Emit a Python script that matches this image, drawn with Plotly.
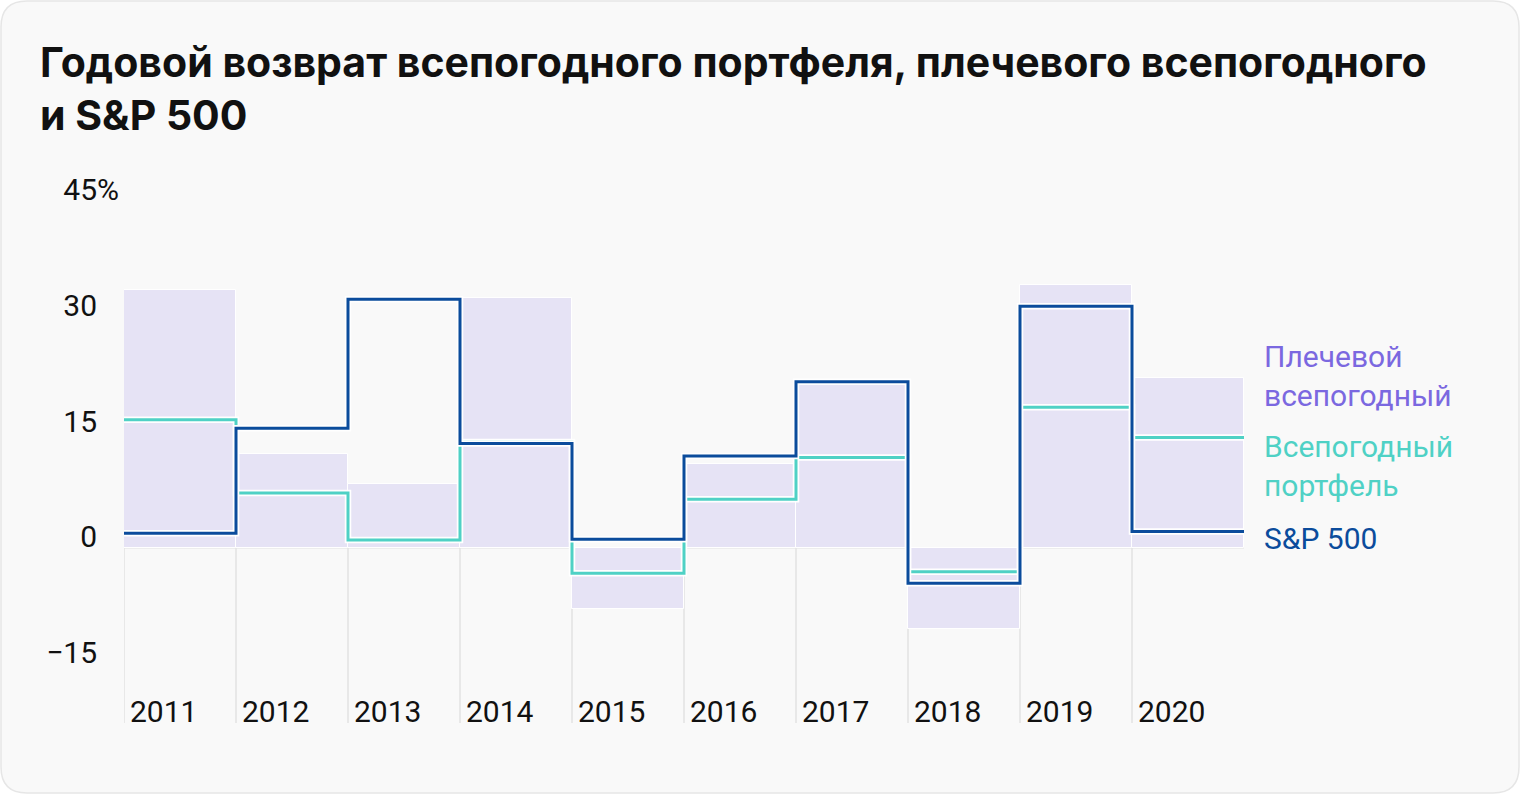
import plotly.graph_objects as go

# ---------------- data ----------------
years = ["2011", "2012", "2013", "2014", "2015", "2016", "2017", "2018", "2019", "2020"]
leveraged_all_weather = [33.4, 12.2, 8.3, 32.3, -7.9, 10.9, 21.6, -10.5, 34.1, 22.0]
all_weather = [16.6, 7.1, 1.0, 13.7, -3.3, 6.3, 11.7, -3.1, 18.2, 14.3]
sp500 = [1.9, 15.5, 32.2, 13.5, 1.1, 11.9, 21.5, -4.6, 31.3, 2.1]
y_tick_values = [45, 30, 15, 0, -15]
y_tick_labels = ["45%", "30", "15", "0", "−15"]
legend_labels = ["Плечевой<br>всепогодный", "Всепогодный<br>портфель", "S&P 500"]
title_text = "Годовой возврат всепогодного портфеля, плечевого всепогодного<br>и S&P 500"

# ---------------- style ----------------
W, H = 1520, 794
L, R, T, B = 124, 276, 200, 71
C_BAR = "#E6E3F5"
C_TEAL = "#4FD1C5"
C_BLUE = "#0B4C9C"
C_PURPLE = "#7B68E0"
C_GRID = "#E2E2E2"
FONT = "Roboto"
FS = 30

n = len(years)
centers = [i + 0.5 for i in range(n)]
edges = list(range(n + 1))

fig = go.Figure()

fig.add_trace(go.Bar(
    x=centers, y=leveraged_all_weather, width=1,
    marker=dict(color=C_BAR, line=dict(color="white", width=1)),
    hoverinfo="skip", showlegend=False,
))


def step_trace(vals, color, width):
    return go.Scatter(
        x=edges, y=vals + [vals[-1]], mode="lines",
        line=dict(color=color, width=width, shape="hv"),
        hoverinfo="skip", showlegend=False,
    )


fig.add_trace(step_trace(all_weather, "white", 6.5))
fig.add_trace(step_trace(all_weather, C_TEAL, 3))
fig.add_trace(step_trace(sp500, "white", 6.5))
fig.add_trace(step_trace(sp500, C_BLUE, 3))

y_min, y_max = -22.7, 45.06

# gridlines below zero and zero line
shapes = []
for e in edges[:-1]:
    shapes.append(dict(type="line", xref="x", yref="y", x0=e, x1=e, y0=y_min, y1=0,
                       line=dict(color=C_GRID, width=1.5), layer="below"))
shapes.append(dict(type="line", xref="x", yref="y", x0=0, x1=n, y0=0, y1=0,
                   line=dict(color=C_GRID, width=1.5), layer="below"))


# card background (rounded rectangle) in paper coords
def px(xp):
    return (xp - L) / (W - L - R)


def py(yp):
    return (H - B - yp) / (H - T - B)


r = 26
x0, x1, y0, y1 = 1, W - 1, 1, H - 1
path = (f"M {px(x0 + r)},{py(y0)} L {px(x1 - r)},{py(y0)} "
        f"Q {px(x1)},{py(y0)} {px(x1)},{py(y0 + r)} "
        f"L {px(x1)},{py(y1 - r)} Q {px(x1)},{py(y1)} {px(x1 - r)},{py(y1)} "
        f"L {px(x0 + r)},{py(y1)} Q {px(x0)},{py(y1)} {px(x0)},{py(y1 - r)} "
        f"L {px(x0)},{py(y0 + r)} Q {px(x0)},{py(y0)} {px(x0 + r)},{py(y0)} Z")
shapes.insert(0, dict(type="path", xref="paper", yref="paper", path=path,
                      fillcolor="#F9F9F9", line=dict(color="#E6E6E6", width=1.5), layer="below"))

# y tick labels: invisible % keeps numbers aligned like the reference
y_ticktext = [t if t.endswith("%") else t + "<span style='color:rgba(0,0,0,0)'>%</span>"
              for t in y_tick_labels]

annotations = []
legend_colors = [C_PURPLE, C_TEAL, C_BLUE]
legend_y = [376, 466, 538]
for txt, col, yy in zip(legend_labels, legend_colors, legend_y):
    annotations.append(dict(
        text=txt, xref="paper", yref="paper", x=px(1262), y=py(yy),
        xanchor="left", yanchor="middle", align="left", showarrow=False,
        font=dict(family=FONT, size=FS, color=col),
    ))

fig.update_layout(
    width=W, height=H,
    margin=dict(l=L, r=R, t=T, b=B, pad=0),
    paper_bgcolor="white", plot_bgcolor="rgba(0,0,0,0)",
    bargap=0,
    title=dict(text=title_text, xref="container", yref="container",
               x=40 / W, xanchor="left", y=1 - 77 / H, yanchor="top",
               font=dict(family="Inter", size=41, color="#111111", weight=700)),
    xaxis=dict(range=[0, n], tickvals=edges[:-1], ticktext=years,
               ticklabelposition="inside right", showgrid=False, zeroline=False,
               showline=False, ticks="", fixedrange=True,
               ticklabelshift=6, ticklabelstandoff=-11,
               tickfont=dict(family=FONT, size=FS, color="#111111")),
    yaxis=dict(range=[y_min, y_max], tickvals=y_tick_values, ticktext=y_ticktext,
               showgrid=False, zeroline=False, showline=False, ticks="",
               ticklabelstandoff=4, ticklabelshift=-11,
               tickfont=dict(family=FONT, size=FS, color="#111111")),
    shapes=shapes,
    annotations=annotations,
    font=dict(family=FONT),
)

fig.write_html("out.html", config={"displayModeBar": False},
               post_script="document.body.style.margin='0px';document.body.style.overflow='hidden';")
